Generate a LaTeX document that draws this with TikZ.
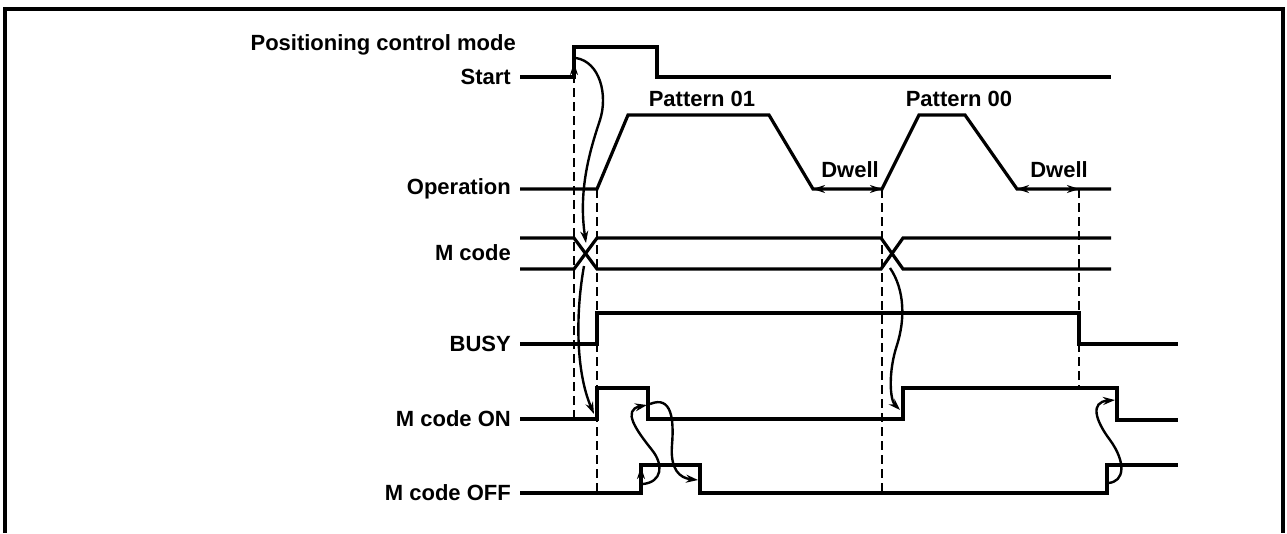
\documentclass[tikz,border=0pt]{standalone}
\usepackage{fontspec}
\setmainfont{Liberation Sans}
\usetikzlibrary{arrows.meta}
\begin{document}
\begin{tikzpicture}[x=1pt,y=-1pt,
  sig/.style={line width=3.2pt, line join=miter},
  guide/.style={line width=2.4pt, dash pattern=on 9pt off 5pt},
  cue/.style={line width=2.4pt, -{Stealth[length=12pt,width=8pt]}},
  tip/.style={line width=2.2pt, -{Stealth[length=12pt,width=8pt]}},
  span/.style={line width=2.6pt, {Stealth[length=12pt,width=8pt]}-{Stealth[length=12pt,width=8pt]}},
  lbl/.style={anchor=east, font=\fontsize{22}{25}\selectfont\bfseries, inner sep=0pt},
  tag/.style={font=\fontsize{22}{25}\selectfont\bfseries, inner sep=0pt}]
\useasboundingbox (0,0) rectangle (1287,533);
\draw[line width=3.5pt] (5,533) -- (5,9) -- (1283,9) -- (1283,533);
% labels
\node[lbl] (lmode) at (516,45) {Positioning control mode};
\node[lbl] (lstart) at (511,77) {Start};
\node[lbl] (lop) at (511,189) {Operation};
\node[lbl] (lm) at (511,253) {M code};
\node[lbl] (lbusy) at (511,344) {BUSY};
\node[lbl] (lon) at (511,419) {M code ON};
\node[lbl] (loff) at (511,493) {M code OFF};
\node[tag] (p1) at (702,99) {Pattern 01};
\node[tag] (p0) at (959,99) {Pattern 00};
\node[tag] (d1) at (850,170) {Dwell};
\node[tag] (d2) at (1059,170) {Dwell};
% signals
\draw[sig] (520,77) -- (574,77) -- (574,47) -- (657,47) -- (657,77) -- (1111,77);
\draw[sig] (520,189) -- (597,189) -- (628,115) -- (769,115) -- (813,189) -- (882,189)
  -- (919,115) -- (965,115) -- (1017,189) -- (1111,189);
\draw[sig] (520,238) -- (574,238) -- (597,269) -- (881,269) -- (903,238) -- (1111,238);
\draw[sig] (520,269) -- (574,269) -- (597,238) -- (881,238) -- (903,269) -- (1111,269);
\draw[sig] (520,344) -- (597,344) -- (597,313) -- (1079,313) -- (1079,344) -- (1178,344);
\draw[sig] (520,419) -- (597,419) -- (597,388) -- (648,388) -- (648,419) -- (903,419)
  -- (903,388) -- (1117,388) -- (1117,420) -- (1178,420);
\draw[sig] (520,493) -- (641,493) -- (641,465) -- (700,465) -- (700,493) -- (1107,493)
  -- (1107,465) -- (1178,465);
% key points
\coordinate (sRise) at (576,58);
\coordinate (x1top) at (586,243);
\coordinate (x1bot) at (584,266);
\coordinate (on1) at (594,414);
\coordinate (off1) at (643,484);
\coordinate (onF1) at (647,405);
\coordinate (onF1b) at (650,404);
\coordinate (offF1) at (698,480);
\coordinate (x2bot) at (890,268);
\coordinate (on2) at (900,410);
\coordinate (off2) at (1108,483);
\coordinate (onF2) at (1115,400);
\coordinate (g1a) at (574,419);
\coordinate (g1b) at (574,63);
\coordinate (dw1a) at (813,189);
\coordinate (dw1b) at (882,189);
\coordinate (dw2a) at (1017,189);
\coordinate (dw2b) at (1079,189);
% guides
\draw[guide] (g1a) -- (574,72);
\draw[tip] (574,76) -- (g1b);
\draw[guide] (597,189) -- (597,493);
\draw[guide] (dw1b) -- (882,493);
\draw[guide] (dw2b) -- (1079,388);
% dwell spans
\draw[span] (dw1a) -- (dw1b);
\draw[span] (dw2a) -- (dw2b);
% edge cue on M code OFF
\draw[tip] (641,482) -- (641,467);
% curved arrows
\draw[cue] (sRise) .. controls (600,62) and (608,95) .. (600,120)
  .. controls (590,150) and (578,190) .. (x1top);
\draw[cue] (x1bot) .. controls (576,310) and (575,370) .. (on1);
\draw[cue] (off1) .. controls (662,482) and (664,465) .. (652,450)
  .. controls (636,430) and (622,410) .. (onF1);
\draw[cue] (onF1b) .. controls (672,395) and (674,420) .. (672,445)
  .. controls (670,470) and (680,478) .. (offF1);
\draw[cue] (x2bot) .. controls (905,290) and (905,320) .. (897,345)
  .. controls (888,372) and (890,400) .. (on2);
\draw[cue] (off2) .. controls (1125,482) and (1126,462) .. (1110,440)
  .. controls (1095,420) and (1090,402) .. (onF2);
\end{tikzpicture}
\end{document}
